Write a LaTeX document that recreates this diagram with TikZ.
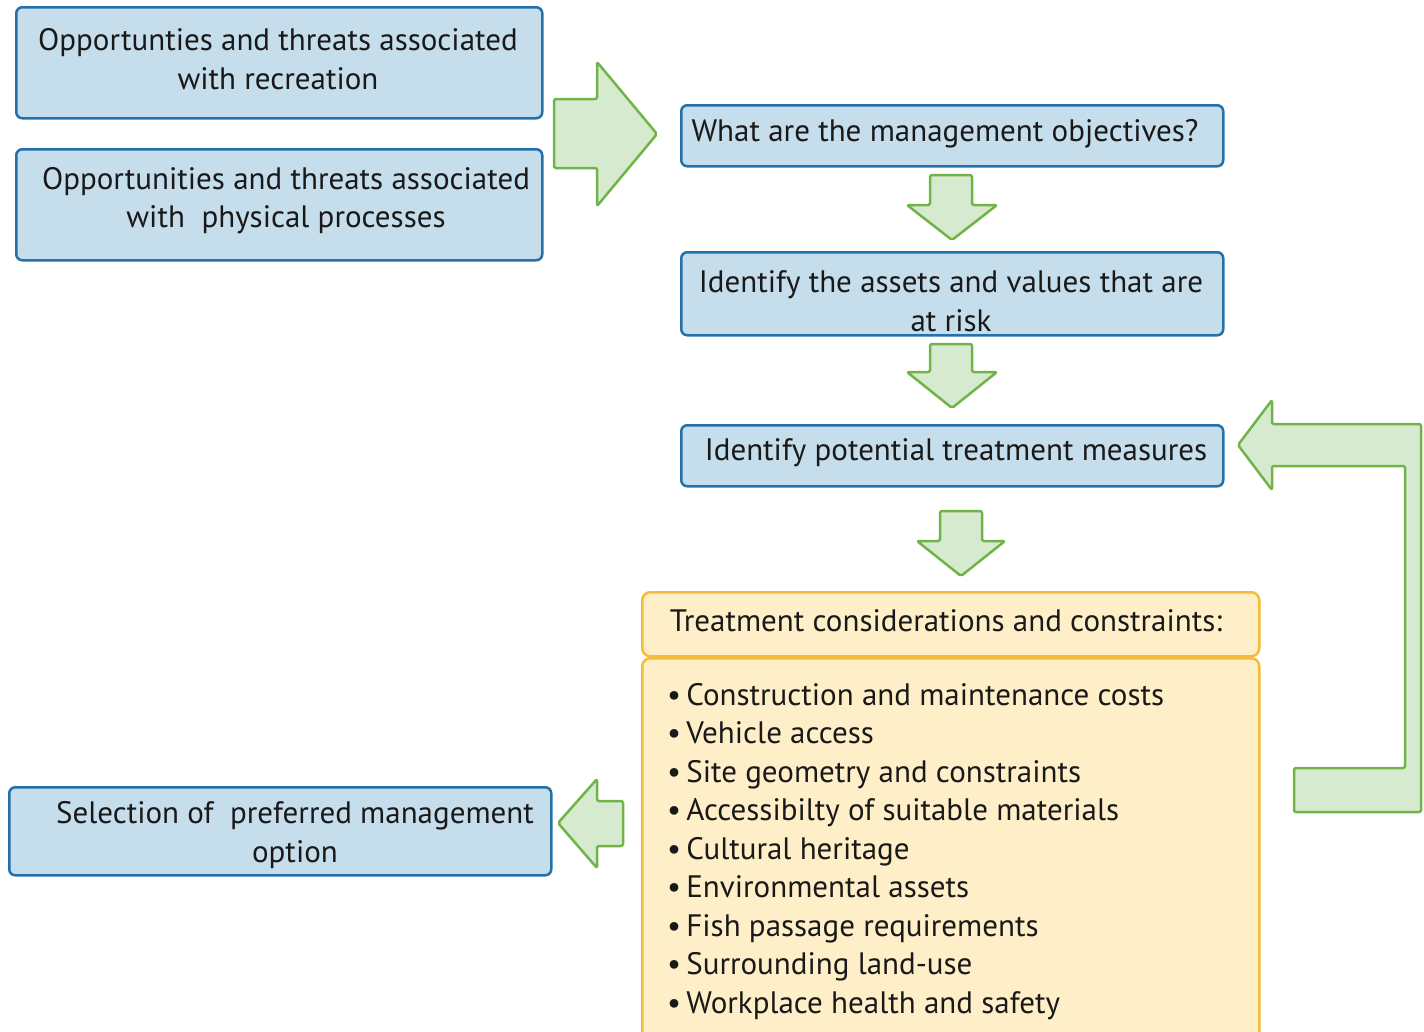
\documentclass[tikz,border=0pt]{standalone}
\usepackage{fontspec}
\setmainfont{PT Sans}
\definecolor{bfill}{RGB}{198,221,235}
\definecolor{bdraw}{RGB}{36,113,170}
\definecolor{gfill}{RGB}{214,234,208}
\definecolor{gdraw}{RGB}{112,180,72}
\definecolor{yfill}{RGB}{255,239,200}
\definecolor{ydraw}{RGB}{244,188,58}
\begin{document}
\begin{tikzpicture}[x=1pt,y=-1pt,
  font=\fontsize{31pt}{38.5pt}\selectfont,
  bluebox/.style={draw=bdraw,fill=bfill,line width=2.5pt,rounded corners=6pt,anchor=north west,inner sep=0pt},
  yellowbox/.style={draw=ydraw,fill=yfill,line width=2.5pt,rounded corners=8pt,anchor=north west,inner sep=0pt},
  blockarrow/.style={draw=gdraw,fill=gfill,line width=2.5pt,rounded corners=2pt,line join=round},
  txt/.style={align=center,inner sep=0pt,text=black!90}]
\useasboundingbox (0,0) rectangle (1424,1031);
% boxes
\node[bluebox,minimum width=526pt,minimum height=111pt] (b1) at (15,6) {};
\node[bluebox,minimum width=526pt,minimum height=111pt] (b2) at (15,148) {};
\node[bluebox,minimum width=542pt,minimum height=61pt] (b3) at (680,104) {};
\node[bluebox,minimum width=542pt,minimum height=83pt] (b4) at (680,251) {};
\node[bluebox,minimum width=542pt,minimum height=61pt] (b5) at (680,424) {};
\node[yellowbox,minimum width=617pt,minimum height=64pt] (b6) at (641,591) {};
\node[yellowbox,minimum width=617pt,minimum height=400pt] (b7) at (641,657) {};
\node[bluebox,minimum width=542pt,minimum height=88pt] (b8) at (8,786) {};
% texts
\node[txt] (t1) at (278,59) {Opportunties and threats associated\\with recreation};
\node[txt] (t2) at (286,200.5) {Opportunities and threats associated\\with~~physical processes};
\node[txt] (t3) at (945,134) {What are the management objectives?};
\node[txt] (t4) at (951,301) {Identify the assets and values that are\\at risk};
\node[txt] (t5) at (956,453) {Identify potential treatment measures};
\node[txt] (t6) at (946,621) {Treatment considerations and constraints:};
\node[txt,align=left,anchor=west] (t7) at (667,851.5) {%
\textbullet\,Construction and maintenance costs\\
\textbullet\,Vehicle access\\
\textbullet\,Site geometry and constraints\\
\textbullet\,Accessibilty of suitable materials\\
\textbullet\,Cultural heritage\\
\textbullet\,Environmental assets\\
\textbullet\,Fish passage requirements\\
\textbullet\,Surrounding land-use\\
\textbullet\,Workplace health and safety};
\node[txt] (t8) at (295,835) {Selection of~~preferred management\\option};
% block arrows
\draw[blockarrow] (554,99) -- (597,99) -- (597,62) -- (657,134) -- (597,206) -- (597,168) -- (554,168) -- cycle;
\draw[blockarrow] (930,175) -- (972,175) -- (972,205) -- (997,205) -- (952,240) -- (907,205) -- (930,205) -- cycle;
\draw[blockarrow] (930,344) -- (972,344) -- (972,372) -- (997,372) -- (952,408) -- (907,372) -- (930,372) -- cycle;
\draw[blockarrow] (940,511) -- (982,511) -- (982,541) -- (1005,541) -- (961,576) -- (917,541) -- (940,541) -- cycle;
\draw[blockarrow] (623,801) -- (623,846) -- (597,846) -- (597,868) -- (558,823) -- (597,779) -- (597,801) -- cycle;
\draw[blockarrow] (1238,445) -- (1272,400) -- (1272,424) -- (1421,424) -- (1421,812) -- (1294,812) -- (1294,768) -- (1405,768) -- (1405,466) -- (1272,466) -- (1272,490) -- cycle;
\end{tikzpicture}
\end{document}
